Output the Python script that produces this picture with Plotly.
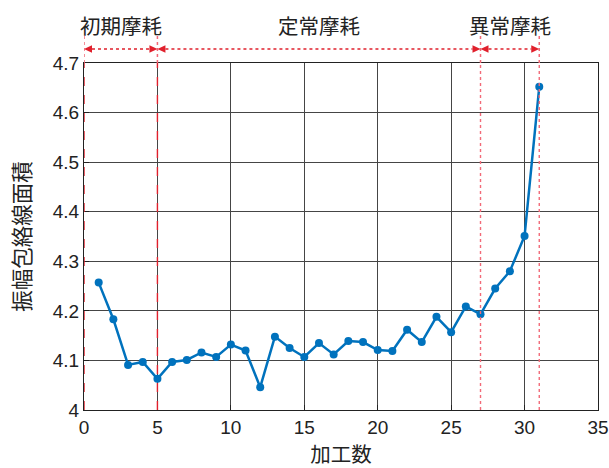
import plotly.graph_objects as go

# ---- data ----
machining_count = list(range(1, 32))
envelope_area = [4.257, 4.183, 4.091, 4.097, 4.063, 4.097, 4.101, 4.116, 4.107, 4.132,
                 4.120, 4.046, 4.148, 4.125, 4.107, 4.135, 4.112, 4.139, 4.137, 4.121,
                 4.119, 4.162, 4.137, 4.188, 4.157, 4.209, 4.193, 4.245, 4.280, 4.351,
                 4.652]
phase_bounds = [0, 5, 27, 31]
phase_labels = ["初期摩耗", "定常摩耗", "異常摩耗"]
x_ticks = [0, 5, 10, 15, 20, 25, 30, 35]
y_ticks = [4.0, 4.1, 4.2, 4.3, 4.4, 4.5, 4.6, 4.7]
y_tick_text = ["4", "4.1", "4.2", "4.3", "4.4", "4.5", "4.6", "4.7"]

W, H = 609, 468
ML, MR, MT, MB = 84, 11, 63, 58
pw, ph = W - ML - MR, H - MT - MB
xr = [0, 35]
px_per_x = pw / (xr[1] - xr[0])

NUM_FONT = "Liberation Sans Narrow, Arial Narrow, Liberation Sans, sans-serif"
CJK_FONT = "Noto Sans CJK JP, sans-serif"

fig = go.Figure()
fig.add_trace(go.Scatter(
    x=machining_count, y=envelope_area, mode="lines+markers",
    line=dict(color="#0072BD", width=2.5),
    marker=dict(color="#0072BD", size=8),
    showlegend=False, cliponaxis=False,
))

shapes = []
y_arrow = 1 + (MT - 49) / ph
y_tick_top = 1 + (MT - 35) / ph
red = "#E0202C"
pink = "#F26A78"
for i, b in enumerate(phase_bounds):
    inner_dash = i < 2
    shapes.append(dict(type="line", xref="x", yref="paper", x0=b, x1=b, y0=0, y1=1,
                       line=dict(color=red if inner_dash else pink, width=1.4,
                                 dash="dash" if inner_dash else "dot"), layer="above"))
    shapes.append(dict(type="line", xref="x", yref="paper", x0=b, x1=b, y0=1, y1=y_tick_top,
                       line=dict(color=pink, width=1.5, dash="dot"), layer="above"))

hl = 8 / px_per_x
hh = 3.8 / ph
for a, b in zip(phase_bounds[:-1], phase_bounds[1:]):
    shapes.append(dict(type="line", xref="x", yref="paper", x0=a + hl, x1=b - hl,
                       y0=y_arrow, y1=y_arrow,
                       line=dict(color=red, width=1.5, dash="dot"), layer="above"))
    shapes.append(dict(type="path", xref="x", yref="paper",
                       path=f"M {a} {y_arrow} L {a + hl} {y_arrow + hh} L {a + hl} {y_arrow - hh} Z",
                       fillcolor=red, line=dict(width=0), layer="above"))
    shapes.append(dict(type="path", xref="x", yref="paper",
                       path=f"M {b} {y_arrow} L {b - hl} {y_arrow + hh} L {b - hl} {y_arrow - hh} Z",
                       fillcolor=red, line=dict(width=0), layer="above"))

annotations = []
y_label = 1 + (MT - 25) / ph
for a, b, t in zip(phase_bounds[:-1], phase_bounds[1:], phase_labels):
    annotations.append(dict(x=(a + b) / 2, y=y_label, xref="x", yref="paper", text=t,
                            showarrow=False, font=dict(family=CJK_FONT, size=20.5, color="#222"),
                            xanchor="center", yanchor="middle"))

axis_common = dict(showline=True, linecolor="#222", linewidth=1.3, mirror=True,
                   showgrid=True, gridcolor="#454545", gridwidth=1.3,
                   ticks="inside", ticklen=5, tickcolor="#222", zeroline=False,
                   automargin=False,
                   tickfont=dict(family=NUM_FONT, size=19, color="#222"))

fig.update_layout(
    width=W, height=H, margin=dict(l=ML, r=MR, t=MT, b=MB),
    paper_bgcolor="white", plot_bgcolor="white",
    xaxis=dict(range=xr, tickvals=x_ticks, **axis_common,
               title=dict(text="加工数", font=dict(family=CJK_FONT, size=20.5, color="#222"),
                          standoff=8)),
    yaxis=dict(range=[4.0, 4.7], tickvals=y_ticks, ticktext=y_tick_text, **axis_common,
               title=dict(text="振幅包絡線面積", font=dict(family=CJK_FONT, size=21.5, color="#222"),
                          standoff=16)),
    shapes=shapes, annotations=annotations,
)

fig.write_html("out.html")
